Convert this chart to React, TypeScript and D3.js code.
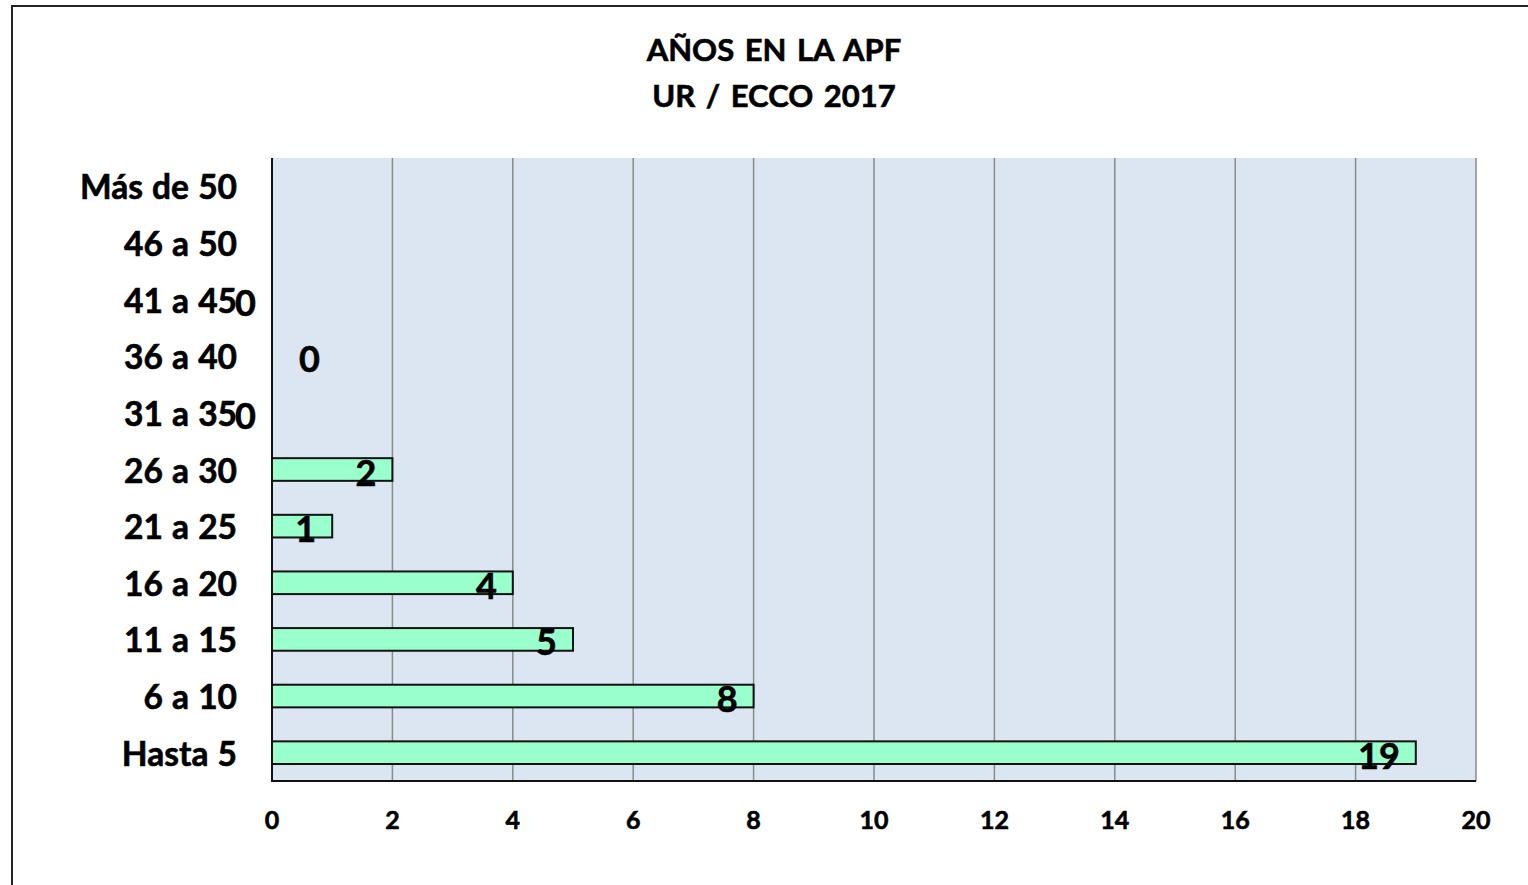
import { useEffect, useRef } from 'react'
import * as d3 from 'd3'

// categories top to bottom
const categories = ['Más de 50', '46 a 50', '41 a 45', '36 a 40', '31 a 35', '26 a 30', '21 a 25', '16 a 20', '11 a 15', '6 a 10', 'Hasta 5']
const values: (number | null)[] = [null, null, 0, 0, 0, 2, 1, 4, 5, 8, 19]
const ticks = [0, 2, 4, 6, 8, 10, 12, 14, 16, 18, 20]
const titleLines = ['AÑOS EN LA APF', 'UR / ECCO 2017']

const FONT = 'Lato, "Open Sans", sans-serif'

export default function App() {
  const svgRef = useRef<SVGSVGElement>(null)

  useEffect(() => {
    const W = 1528
    const H = 885
    const left = 272
    const right = 1476
    const top = 158
    const bottom = 781

    const svg = d3.select(svgRef.current)
    svg.selectAll('*').remove()
    svg.attr('width', W).attr('height', H)

    const x = d3.scaleLinear().domain([0, 20]).range([left, right])
    const y = d3.scaleBand().domain(categories).range([top, bottom]).paddingInner(0.6).paddingOuter(0.3)
    const band = d3.scaleBand().domain(categories).range([top, bottom])

    // outer chart border
    svg.append('rect')
      .attr('x', 12).attr('y', 6)
      .attr('width', W + 20).attr('height', H + 20)
      .attr('fill', 'white')
      .attr('stroke', '#222').attr('stroke-width', 2)

    svg.append('rect')
      .attr('x', left).attr('y', top)
      .attr('width', right - left).attr('height', bottom - top)
      .attr('fill', '#DCE6F2')

    svg.selectAll('.grid')
      .data(ticks.filter(t => t > 0))
      .join('line')
      .attr('class', 'grid')
      .attr('x1', d => x(d)).attr('x2', d => x(d))
      .attr('y1', top).attr('y2', bottom)
      .attr('stroke', '#8a8a8a')
      .attr('stroke-width', 1.5)

    const rows = categories.map((c, i) => ({ c, v: values[i] }))

    svg.selectAll('.bar')
      .data(rows.filter(d => d.v != null && d.v > 0))
      .join('rect')
      .attr('class', 'bar')
      .attr('x', x(0))
      .attr('y', d => y(d.c)!)
      .attr('width', d => x(d.v as number) - x(0))
      .attr('height', y.bandwidth())
      .attr('fill', '#99FFCC')
      .attr('stroke', '#111')
      .attr('stroke-width', 2)

    // axes lines
    svg.append('line')
      .attr('x1', left).attr('x2', left).attr('y1', top).attr('y2', bottom + 1)
      .attr('stroke', '#111').attr('stroke-width', 2)
    svg.append('line')
      .attr('x1', left - 1).attr('x2', right).attr('y1', bottom).attr('y2', bottom)
      .attr('stroke', '#111').attr('stroke-width', 2)

    const bold = (sel: any, size: number) => sel
      .attr('font-family', FONT)
      .attr('font-weight', 700)
      .attr('font-size', size + 'px')
      .attr('fill', '#000')
      .attr('stroke', '#000')
      .attr('stroke-width', 0.6)
      .attr('dominant-baseline', 'central')

    svg.selectAll('.tick')
      .data(ticks)
      .join('text')
      .attr('class', 'tick')
      .attr('x', d => x(d))
      .attr('y', 819)
      .attr('text-anchor', 'middle')
      .call(bold, 25)
      .text(d => d)

    svg.selectAll('.cat')
      .data(categories)
      .join('text')
      .attr('class', 'cat')
      .attr('x', 237)
      .attr('y', d => band(d)! + band.bandwidth() / 2)
      .attr('text-anchor', 'end')
      .attr('word-spacing', 1)
      .call(bold, 33.5)
      .text(d => d)

    // value labels, inside end; the middle zero label was dragged right
    svg.selectAll('.val')
      .data(rows.filter(d => d.v != null))
      .join('text')
      .attr('class', 'val')
      .attr('x', d => x(d.v as number) - 16 + (d.c === '36 a 40' ? 64 : 0))
      .attr('y', d => band(d.c)! + band.bandwidth() / 2 + 2)
      .attr('text-anchor', 'end')
      .call(bold, 36)
      .text(d => d.v as number)

    svg.selectAll('.title')
      .data(titleLines)
      .join('text')
      .attr('class', 'title')
      .attr('x', 774)
      .attr('y', (d, i) => 49 + i * 46)
      .attr('text-anchor', 'middle')
      .attr('word-spacing', 3)
      .call(bold, 31)
      .text(d => d)
  }, [])

  return (
    <svg ref={svgRef} style={{ position: 'absolute', left: 0, top: 0, display: 'block' }} />
  )
}
